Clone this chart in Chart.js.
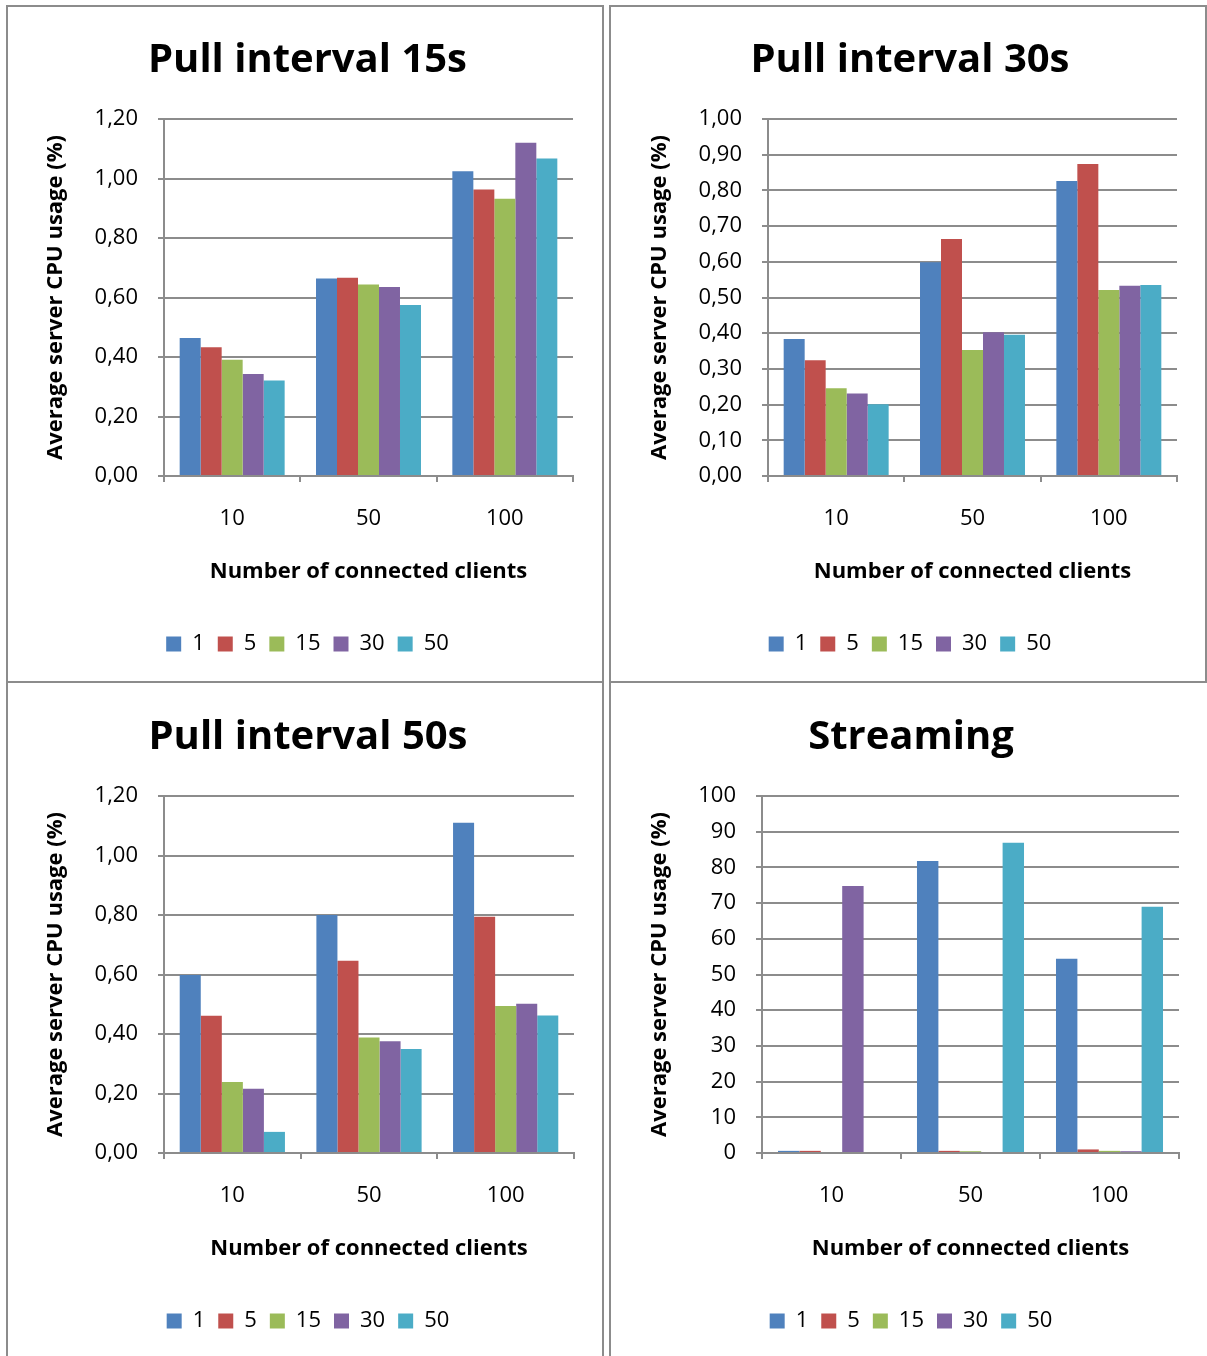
<!DOCTYPE html>
<html>
<head>
<meta charset="utf-8">
<script src="https://cdn.jsdelivr.net/npm/chart.js@4"></script>
<style>
  html, body { margin: 0; padding: 0; background: #fff; overflow: hidden; }
  body { width: 1207px; height: 1356px; position: relative; }
  .panel { position: absolute; box-sizing: border-box; border: 2px solid #8c8c8c; }
  canvas { position: absolute; }
</style>
</head>
<body>
<!-- marcos de los 4 paneles -->
<div class="panel" style="left:6px;top:5px;width:598px;height:678px"></div>
<div class="panel" style="left:609px;top:5px;width:598px;height:678px"></div>
<div class="panel" style="left:6px;top:681px;width:598px;height:700px;border-bottom:none"></div>
<div class="panel" style="left:609px;top:681px;width:600px;height:700px;border-bottom:none;border-right:none"></div>

<canvas id="chart15" width="594" height="674" style="left:8px;top:7px"></canvas>
<canvas id="chart30" width="594" height="674" style="left:611px;top:7px"></canvas>
<canvas id="chart50" width="594" height="674" style="left:8px;top:684px"></canvas>
<canvas id="chartStream" width="594" height="674" style="left:611px;top:684px"></canvas>

<script>
// ====== DATOS ======
// categorías del eje X (clientes conectados)
const clients = ['10', '50', '100'];
// series de la leyenda
const seriesNames = ['1', '5', '15', '30', '50'];
const seriesColors = ['#4F81BD', '#C0504D', '#9BBB59', '#8064A2', '#4BACC6'];

// cada fila = una serie (1, 5, 15, 30, 50), valores para 10 / 50 / 100 clientes
const pull15 = [
  [0.464, 0.664, 1.024],
  [0.433, 0.666, 0.963],
  [0.391, 0.644, 0.932],
  [0.343, 0.635, 1.120],
  [0.321, 0.575, 1.067]
];
const pull30 = [
  [0.384, 0.599, 0.826],
  [0.324, 0.664, 0.874],
  [0.246, 0.353, 0.521],
  [0.231, 0.403, 0.533],
  [0.201, 0.396, 0.535]
];
const pull50 = [
  [0.598, 0.800, 1.110],
  [0.461, 0.646, 0.794],
  [0.239, 0.388, 0.494],
  [0.216, 0.376, 0.502],
  [0.071, 0.350, 0.462]
];
const streaming = [
  [0.6, 81.8, 54.4],
  [0.6, 0.6, 1.0],
  [0, 0.5, 0.6],
  [74.8, 0, 0.5],
  [0, 86.9, 69.0]
];

// ====== ESTILO GENERAL ======
Chart.defaults.font.family = "'Open Sans', sans-serif";
Chart.defaults.color = '#000';
const GRID = '#8c8c8c';

const commaFmt = v => v.toFixed(2).replace('.', ',');

// crea un gráfico de barras agrupadas
function barChart(id, title, values, yMax, yStep, fmt, geo) {
  new Chart(document.getElementById(id), {
    type: 'bar',
    data: {
      labels: clients,
      datasets: seriesNames.map((name, i) => ({
        label: name,
        data: values[i],
        backgroundColor: seriesColors[i],
        borderWidth: 0,
        categoryPercentage: 0.77,
        barPercentage: 1
      }))
    },
    options: {
      responsive: false,
      animation: false,
      devicePixelRatio: 1,
      layout: { padding: { left: geo.padL, right: geo.padR, top: 0, bottom: 16 } },
      plugins: {
        title: {
          display: true,
          text: title,
          font: { size: 40, weight: 'bold' },
          padding: { top: 30, bottom: 34 }
        },
        legend: {
          position: 'bottom',
          labels: { boxWidth: 15, boxHeight: 15, padding: 13, font: { size: 22 } }
        },
        tooltip: { enabled: false }
      },
      scales: {
        x: {
          grid: { offset: true, drawOnChartArea: false, tickLength: 6, color: GRID, lineWidth: 2 },
          border: { color: GRID, width: 2 },
          ticks: { padding: 24, maxRotation: 0, font: { size: 22 } },
          title: {
            display: true,
            text: 'Number of connected clients',
            font: { size: 22, weight: 'bold' },
            padding: { top: 0, bottom: 35 }
          },
          afterFit: s => { s.height = 144; }
        },
        y: {
          min: 0,
          max: yMax,
          grid: { tickLength: 6, color: GRID, lineWidth: 2 },
          border: { color: GRID, width: 2 },
          ticks: { stepSize: yStep, padding: 20, font: { size: 22 }, callback: fmt },
          title: {
            display: true,
            text: 'Average server CPU usage (%)',
            font: { size: 22, weight: 'bold' },
            padding: { top: geo.titlePad, bottom: 0 }
          },
          afterFit: s => { s.width = geo.yWidth; }
        }
      }
    }
  });
}

barChart('chart15', 'Pull interval 15s', pull15, 1.2, 0.2, commaFmt, { padL: 34, padR: 29, yWidth: 122, titlePad: 1 });
barChart('chart30', 'Pull interval 30s', pull30, 1.0, 0.1, commaFmt, { padL: 32, padR: 28, yWidth: 125, titlePad: 4 });
barChart('chart50', 'Pull interval 50s', pull50, 1.2, 0.2, commaFmt, { padL: 34, padR: 28, yWidth: 122, titlePad: 1 });
barChart('chartStream', 'Streaming', streaming, 100, 10, v => String(v), { padL: 32, padR: 26, yWidth: 119, titlePad: 4 });
</script>
</body>
</html>
